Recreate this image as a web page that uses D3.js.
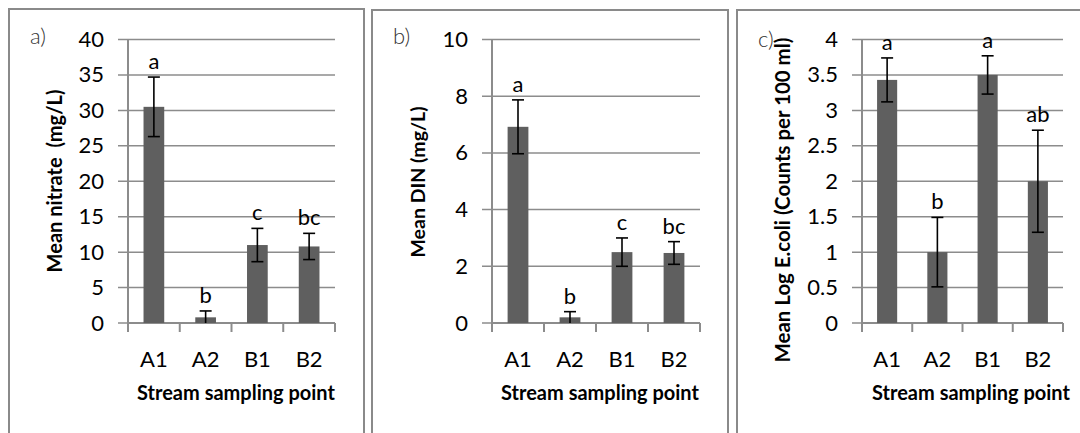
<!DOCTYPE html>
<html>
<head>
<meta charset="utf-8">
<script src="https://cdn.jsdelivr.net/npm/d3@7"></script>
<style>
  body { margin: 0; background: #fff; }
  text { font-family: Lato, "Open Sans", sans-serif; }
</style>
</head>
<body>
<div id="canvas"></div>
<script>
"use strict";

// Data
let sites = ["A1", "A2", "B1", "B2"];

let nitrateMean = [30.5, 0.8, 11.0, 10.8];
let nitrateErr = [4.2, 0.9, 2.35, 1.85];
let nitrateLetters = ["a", "b", "c", "bc"];
let nitrateTicks = [0, 5, 10, 15, 20, 25, 30, 35, 40];

let dinMean = [6.92, 0.2, 2.5, 2.47];
let dinErr = [0.95, 0.2, 0.5, 0.4];
let dinLetters = ["a", "b", "c", "bc"];
let dinTicks = [0, 2, 4, 6, 8, 10];

let ecoliMean = [3.43, 1.0, 3.5, 2.0];
let ecoliErr = [0.31, 0.49, 0.27, 0.72];
let ecoliLetters = ["a", "b", "a", "ab"];
let ecoliTicks = [0, 0.5, 1, 1.5, 2, 2.5, 3, 3.5, 4];

let svgWidth = 1080;
let svgHeight = 433;

let barColor = "#5f5f5f";
let gridColor = "#8c8c8c";
let frameColor = "#8a8a8a";

let svg = d3.select("#canvas")
    .append("svg")
    .attr("width", svgWidth)
    .attr("height", svgHeight);

// Scale a text's font size so it spans the given width
function fitText(sel, width) {
    let node = sel.node();
    let base = parseFloat(sel.style("font-size"));
    let len = node.getComputedTextLength();
    sel.style("font-size", (base * width / len).toFixed(2) + "px");
}

// Panel layout (pixels)
let panels = [
    { tag: "a)", title: "Mean nitrate\u00a0\u00a0(mg/L)", mean: nitrateMean, err: nitrateErr,
      letters: nitrateLetters, ticks: nitrateTicks,
      frame: { x: 9, y: 9, w: 355 }, left: 128, right: 335, tagY: 44,
      titleY: 181, titleW: 183, xTitleX: 236 },
    { tag: "b)", title: "Mean DIN (mg/L)", mean: dinMean, err: dinErr,
      letters: dinLetters, ticks: dinTicks,
      frame: { x: 372, y: 10, w: 356 }, left: 492, right: 700, tagY: 44,
      titleY: 182, titleW: 151, xTitleX: 600 },
    { tag: "c)", title: "Mean Log E.coli (Counts per 100 ml)", mean: ecoliMean, err: ecoliErr,
      letters: ecoliLetters, ticks: ecoliTicks,
      frame: { x: 737, y: 10, w: 360 }, left: 862, right: 1063, tagY: 47,
      titleY: 200, titleW: 325, xTitleX: 971 }
];

let plotTop = 39.5;
let plotBottom = 323;

panels.forEach(p => {
    let g = svg.append("g");

    // Outer frame (bottom runs off the picture)
    g.append("rect")
        .attr("x", p.frame.x)
        .attr("y", p.frame.y)
        .attr("width", p.frame.w)
        .attr("height", 500)
        .attr("fill", "none")
        .attr("stroke", frameColor)
        .attr("stroke-width", 2);

    let x = d3.scaleBand()
        .domain(sites)
        .range([p.left, p.right])
        .paddingInner(0.6)
        .paddingOuter(0.3);

    let y = d3.scaleLinear()
        .domain([0, d3.max(p.ticks)])
        .range([plotBottom, plotTop]);

    // Gridlines with outside tick marks
    g.selectAll("line.grid")
        .data(p.ticks)
        .join("line")
        .attr("class", "grid")
        .attr("x1", p.left - 10)
        .attr("x2", p.right)
        .attr("y1", d => y(d))
        .attr("y2", d => y(d))
        .attr("stroke", gridColor)
        .attr("stroke-width", 1.5);

    // Y axis line
    g.append("line")
        .attr("x1", p.left)
        .attr("x2", p.left)
        .attr("y1", plotTop)
        .attr("y2", plotBottom)
        .attr("stroke", gridColor)
        .attr("stroke-width", 2);

    // X axis tick marks on the category boundaries
    let step = x.step();
    let bounds = d3.range(sites.length + 1).map(i => p.left + i * step);
    g.selectAll("line.xtick")
        .data(bounds)
        .join("line")
        .attr("class", "xtick")
        .attr("x1", d => d)
        .attr("x2", d => d)
        .attr("y1", plotBottom)
        .attr("y2", plotBottom + 9)
        .attr("stroke", gridColor)
        .attr("stroke-width", 2);

    g.append("line")
        .attr("x1", p.left)
        .attr("x2", p.right)
        .attr("y1", plotBottom)
        .attr("y2", plotBottom)
        .attr("stroke", gridColor)
        .attr("stroke-width", 2);

    // Y tick labels
    let yAxis = g.append("g")
        .attr("transform", `translate(${p.left},0)`)
        .call(d3.axisLeft(y).tickValues(p.ticks).tickSize(0).tickPadding(24).tickFormat(d3.format("")));
    yAxis.select(".domain").remove();
    yAxis.selectAll("text")
        .style("font-family", "Lato, sans-serif")
        .style("font-size", "22px")
        .attr("fill", "#000");

    // X tick labels
    let xAxis = g.append("g")
        .attr("transform", `translate(0,${plotBottom})`)
        .call(d3.axisBottom(x).tickSize(0).tickPadding(28));
    xAxis.select(".domain").remove();
    xAxis.selectAll("text")
        .style("font-family", "Lato, sans-serif")
        .style("font-size", "22px")
        .attr("fill", "#000");

    let rows = sites.map((s, i) => ({ site: s, mean: p.mean[i], err: p.err[i], letter: p.letters[i] }));

    // Bars
    g.selectAll("rect.bar")
        .data(rows)
        .join("rect")
        .attr("class", "bar")
        .attr("x", d => x(d.site))
        .attr("width", x.bandwidth())
        .attr("y", d => y(d.mean))
        .attr("height", d => plotBottom - y(d.mean))
        .attr("fill", barColor);

    // Error bars
    let cx = d => x(d.site) + x.bandwidth() / 2;
    let capW = 6;
    let eb = g.selectAll("g.err")
        .data(rows)
        .join("g")
        .attr("class", "err")
        .attr("stroke", "#000")
        .attr("stroke-width", 1.6);
    eb.append("line")
        .attr("x1", cx).attr("x2", cx)
        .attr("y1", d => y(d.mean + d.err))
        .attr("y2", d => y(Math.max(0, d.mean - d.err)));
    eb.append("line")
        .attr("x1", d => cx(d) - capW).attr("x2", d => cx(d) + capW)
        .attr("y1", d => y(d.mean + d.err))
        .attr("y2", d => y(d.mean + d.err));
    eb.filter(d => d.mean - d.err > 0.02 * d3.max(p.ticks))
        .append("line")
        .attr("x1", d => cx(d) - capW).attr("x2", d => cx(d) + capW)
        .attr("y1", d => y(d.mean - d.err))
        .attr("y2", d => y(d.mean - d.err));

    // Significance letters
    g.selectAll("text.letter")
        .data(rows)
        .join("text")
        .attr("class", "letter")
        .attr("x", cx)
        .attr("y", d => y(d.mean + d.err) - 8)
        .attr("text-anchor", "middle")
        .style("font-size", "22px")
        .text(d => d.letter);

    // Axis titles
    let xt = g.append("text")
        .attr("x", p.xTitleX)
        .attr("y", 400)
        .attr("text-anchor", "middle")
        .attr("font-weight", "bold")
        .style("font-size", "17px")
        .text("Stream sampling point");
    fitText(xt, 198);

    let yt = g.append("text")
        .attr("transform", `translate(${p.frame.x + 53},${p.titleY}) rotate(-90)`)
        .attr("text-anchor", "middle")
        .attr("font-weight", "bold")
        .style("font-size", "17px")
        .text(p.title);
    fitText(yt, p.titleW);

    // Panel tag
    g.append("text")
        .attr("x", p.frame.x + 21)
        .attr("y", p.tagY)
        .attr("fill", "#333")
        .style("font-size", "22px")
        .style("font-weight", "300")
        .text(p.tag);
});
</script>
</body>
</html>
